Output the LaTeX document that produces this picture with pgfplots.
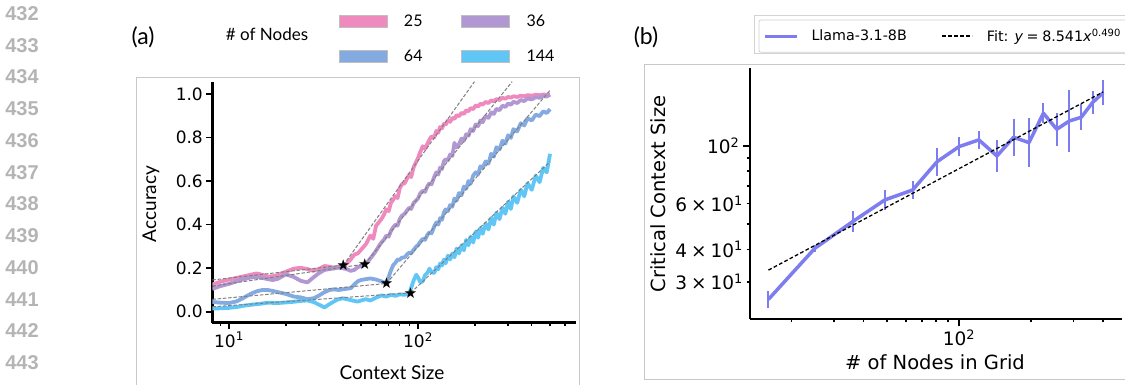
\documentclass[border=0pt]{standalone}
\usepackage{fontspec}
\usepackage{pgfplots}
\pgfplotsset{compat=1.18}
\newfontfamily\dejavu{DejaVu Sans}[ItalicFont={DejaVu Sans Oblique}]
\newfontfamily\lato{Lato}
\newfontfamily\lnfont{Liberation Sans}
\definecolor{pinkc}{RGB}{238,138,190}
\definecolor{purpc}{RGB}{178,152,210}
\definecolor{bluec}{RGB}{132,170,226}
\definecolor{cyanc}{RGB}{96,198,246}
\definecolor{llama}{RGB}{125,125,240}
\definecolor{boxgray}{RGB}{200,200,200}
\definecolor{lnum}{RGB}{180,180,180}

\pgfplotstableread{
x y
8.16 0.125
9 0.138
10 0.148
11 0.156
12 0.163
13 0.170
14 0.176
15 0.170
16 0.162
17 0.163
18 0.168
20 0.184
22 0.198
24 0.202
26 0.196
28 0.188
30 0.197
32 0.210
34 0.207
36 0.202
38 0.208
40 0.212
42 0.222
44 0.240
46 0.262
48 0.268
50 0.285
53 0.310
56 0.350
58 0.335
60 0.395
62 0.410
64 0.425
66 0.445
68 0.470
70 0.462
72 0.500
74 0.515
76 0.530
78 0.522
80 0.565
82 0.585
85 0.590
88 0.615
90 0.630
92 0.618
95 0.665
98 0.690
100 0.705
103 0.735
106 0.760
109 0.748
112 0.770
115 0.790
118 0.805
122 0.800
125 0.830
128 0.822
131 0.848
134 0.842
137 0.862
140 0.858
144 0.878
148 0.872
152 0.890
156 0.885
160 0.902
165 0.898
170 0.913
175 0.908
180 0.925
185 0.920
190 0.935
196 0.930
202 0.947
208 0.942
214 0.955
220 0.951
228 0.963
236 0.958
244 0.970
252 0.966
260 0.976
270 0.972
280 0.982
290 0.978
300 0.986
310 0.983
320 0.989
335 0.986
350 0.992
365 0.989
380 0.994
400 0.992
420 0.996
440 0.994
460 0.997
480 0.996
500 0.999
}\pinktab

\pgfplotstableread{
x y
8.16 0.105
9 0.118
10 0.128
11 0.140
12 0.150
13 0.157
14 0.160
15 0.156
16 0.150
17 0.146
18 0.150
20 0.172
22 0.160
24 0.142
26 0.135
28 0.158
30 0.178
32 0.192
34 0.196
36 0.199
38 0.203
40 0.200
42 0.196
44 0.188
46 0.192
48 0.205
50 0.210
52 0.218
54 0.228
56 0.245
58 0.262
60 0.280
62 0.300
64 0.318
66 0.330
68 0.350
70 0.345
72 0.372
74 0.388
76 0.400
78 0.395
80 0.425
82 0.440
85 0.450
88 0.468
90 0.478
92 0.472
95 0.500
98 0.512
100 0.520
103 0.545
106 0.555
109 0.550
112 0.575
115 0.590
118 0.585
122 0.620
125 0.640
128 0.630
131 0.662
134 0.655
137 0.690
140 0.700
144 0.695
148 0.722
152 0.715
156 0.775
160 0.755
165 0.770
170 0.795
175 0.785
180 0.815
185 0.808
190 0.838
196 0.830
202 0.860
208 0.852
214 0.878
220 0.870
228 0.898
236 0.890
244 0.915
252 0.908
260 0.932
270 0.925
280 0.946
290 0.940
300 0.956
310 0.950
320 0.964
335 0.958
350 0.972
365 0.967
380 0.979
400 0.975
420 0.985
440 0.982
460 0.990
480 0.988
500 0.996
}\purptab

\pgfplotstableread{
x y
8.16 0.045
9 0.042
10 0.040
11 0.048
12 0.065
13 0.082
14 0.094
15 0.100
16 0.100
17 0.096
18 0.091
20 0.082
22 0.070
24 0.066
26 0.058
28 0.062
30 0.075
32 0.090
34 0.100
36 0.103
38 0.100
40 0.103
42 0.106
44 0.108
46 0.125
48 0.140
50 0.146
53 0.150
56 0.153
60 0.148
64 0.140
68 0.130
70 0.160
72 0.190
74 0.215
76 0.225
78 0.240
80 0.238
82 0.248
85 0.250
88 0.265
90 0.272
92 0.268
95 0.285
98 0.300
100 0.305
103 0.322
106 0.335
109 0.330
112 0.352
115 0.365
118 0.360
122 0.392
125 0.410
128 0.400
131 0.430
134 0.422
137 0.455
140 0.470
144 0.462
148 0.490
152 0.482
156 0.520
160 0.510
165 0.545
170 0.535
175 0.575
180 0.565
185 0.600
190 0.588
196 0.625
202 0.640
208 0.630
214 0.668
220 0.660
228 0.690
236 0.680
244 0.725
252 0.712
260 0.755
270 0.745
280 0.785
290 0.772
300 0.810
310 0.798
320 0.838
335 0.828
350 0.865
365 0.855
380 0.888
400 0.878
420 0.905
440 0.898
460 0.920
480 0.912
500 0.930
}\bluetab

\pgfplotstableread{
x y
8.16 0.015
9 0.016
10 0.018
11 0.022
12 0.028
13 0.032
14 0.035
15 0.038
16 0.042
17 0.041
18 0.040
20 0.043
22 0.046
24 0.050
26 0.052
28 0.045
30 0.032
32 0.020
34 0.035
36 0.048
38 0.058
40 0.062
42 0.058
44 0.054
46 0.050
48 0.047
50 0.052
53 0.058
56 0.052
60 0.065
64 0.075
68 0.070
72 0.078
76 0.073
80 0.080
85 0.078
88 0.082
90 0.086
92 0.110
95 0.145
98 0.170
100 0.158
103 0.135
106 0.140
109 0.168
112 0.178
115 0.198
118 0.182
122 0.178
125 0.205
128 0.195
131 0.222
134 0.212
137 0.240
140 0.222
144 0.258
148 0.240
152 0.268
156 0.250
160 0.290
165 0.268
170 0.305
175 0.282
180 0.330
185 0.305
190 0.345
196 0.318
202 0.368
208 0.340
214 0.385
220 0.358
228 0.405
236 0.378
244 0.430
252 0.400
260 0.455
270 0.425
280 0.478
290 0.450
300 0.505
310 0.472
320 0.530
335 0.500
350 0.560
365 0.530
380 0.590
400 0.560
420 0.625
440 0.595
460 0.660
480 0.640
500 0.725
}\cyantab

\pgfplotstableread{
n c ep em
16 25.7 1.96 1.82
25 40.4 1.2 1.2
36 51.2 5.2 4.7
49 62.0 6.0 5.4
64 67.7 5.6 5.2
81 87.0 11.5 10.1
100 99.4 8.9 8.2
121 105.5 9.1 8.4
144 91.5 14.2 12.3
169 108 19.0 16.2
196 103 24.7 19.9
225 133.6 12.4 11.4
256 115.9 18.4 15.9
289 124.8 39.9 30.3
324 128.9 15.7 14.0
361 146.8 16.0 14.4
400 160.3 18.4 16.5
}\llamatab

\begin{document}
\begin{tikzpicture}
\useasboundingbox (0pt,0pt) rectangle (1125pt,385pt);
% line numbers
\foreach \i/\t in {0/432,1/433,2/434,3/435,4/436,5/437,6/438,7/439,8/440,9/441,10/442,11/443}{
  \node[font=\lnfont\bfseries\fontsize{20}{20}\selectfont, text=lnum] at (22pt,{371.5pt-31.75pt*\i}) {\t};
}
% panel frames
\draw[boxgray, line width=1pt] (136pt,-5pt) -- (136pt,307pt) -- (579.3pt,307pt) -- (579.3pt,-5pt);
\draw[boxgray, line width=1pt] (644.3pt,5.7pt) rectangle (1135pt,320.7pt);
\draw[boxgray!80, line width=1pt] (754.6pt,331.7pt) rectangle (1135pt,369.3pt);

% ---------- panel (a)
\begin{axis}[
  at={(212.3pt,62.3pt)}, anchor=south west, scale only axis,
  width=363.7pt, height=241pt,
  xmode=log, xmin=8.16, xmax=686, ymin=-0.05, ymax=1.056,
  axis x line*=bottom, axis y line*=left,
  axis line style={line width=2.8pt, black},
  tick align=outside, major tick length=6pt, minor tick length=3.5pt,
  tick style={line width=1.5pt, black},
  xtick={10,100}, xticklabels={10\textsuperscript{1},10\textsuperscript{2}},
  minor xtick={9,20,30,40,50,60,70,80,90,200,300,400,500,600},
  ytick={0,0.2,0.4,0.6,0.8,1.0}, yticklabels={0.0,0.2,0.4,0.6,0.8,1.0},
  tick label style={font=\dejavu\fontsize{17}{17}\selectfont},
  legend columns=2, legend cell align=left,
  legend style={draw=none, fill=none, at={(axis description cs:0.2466,1.285)}, anchor=north west,
    inner sep=0pt, outer sep=0pt, column sep=0pt, row sep=18pt,
    font=\lato\fontsize{16}{16}\selectfont, cells={anchor=west}},
]
\addplot[pinkc, mark=none, line width=3.8pt, line join=round,
  legend image code/.code={\path[draw=none, fill=none] (-37pt,0pt) -- (63pt,0pt); \path[fill=pinkc, draw=black!25, line width=0.6pt] (0pt,-6pt) rectangle (48pt,6pt);}]
  table[x=x,y=y] {\pinktab};
\addlegendentry{25}
\addplot[purpc, mark=none, line width=3.8pt, line join=round,
  legend image code/.code={\path[draw=none, fill=none] (-37pt,0pt) -- (63pt,0pt); \path[fill=purpc, draw=black!25, line width=0.6pt] (0pt,-6pt) rectangle (48pt,6pt);}]
  table[x=x,y=y] {\purptab};
\addlegendentry{36}
\addplot[bluec, mark=none, line width=3.8pt, line join=round,
  legend image code/.code={\path[draw=none, fill=none] (-37pt,0pt) -- (63pt,0pt); \path[fill=bluec, draw=black!25, line width=0.6pt] (0pt,-6pt) rectangle (48pt,6pt);}]
  table[x=x,y=y] {\bluetab};
\addlegendentry{64}
\addplot[cyanc, mark=none, line width=3.8pt, line join=round,
  legend image code/.code={\path[draw=none, fill=none] (-37pt,0pt) -- (63pt,0pt); \path[fill=cyanc, draw=black!25, line width=0.6pt] (0pt,-6pt) rectangle (48pt,6pt);}]
  table[x=x,y=y] {\cyantab};
\addlegendentry{144}
% fitted segments
\addplot[forget plot, mark=none, black!50, line width=1pt, dash pattern=on 3.5pt off 1.8pt] coordinates {(8.16,0.146) (40.3,0.214)};
\addplot[forget plot, mark=none, black!50, line width=1pt, dash pattern=on 3.5pt off 1.8pt] coordinates {(40.3,0.214) (199,1.056)};
\addplot[forget plot, mark=none, black!50, line width=1pt, dash pattern=on 3.5pt off 1.8pt] coordinates {(8.16,0.118) (52.4,0.219)};
\addplot[forget plot, mark=none, black!50, line width=1pt, dash pattern=on 3.5pt off 1.8pt] coordinates {(52.4,0.219) (315,1.056)};
\addplot[forget plot, mark=none, black!50, line width=1pt, dash pattern=on 3.5pt off 1.8pt] coordinates {(8.16,0.057) (68.2,0.130)};
\addplot[forget plot, mark=none, black!50, line width=1pt, dash pattern=on 3.5pt off 1.8pt] coordinates {(68.2,0.130) (500,1.017)};
\addplot[forget plot, mark=none, black!50, line width=1pt, dash pattern=on 3.5pt off 1.8pt] coordinates {(8.16,0.023) (91.5,0.087)};
\addplot[forget plot, mark=none, black!50, line width=1pt, dash pattern=on 3.5pt off 1.8pt] coordinates {(91.5,0.087) (500,0.689)};
\addplot[forget plot, only marks, mark=text, text mark={★}, text mark as node=true,
  text mark style={font=\dejavu\fontsize{15}{15}\selectfont, inner sep=0pt, text=black}]
  coordinates {(40.3,0.214) (52.4,0.219) (68.2,0.130) (91.5,0.087)};
\end{axis}

\node[font=\lato\fontsize{23}{23}\selectfont] at (143pt,348pt) {(a)};
\node[font=\lato\fontsize{17}{17}\selectfont] at (267pt,350.7pt) {\# of Nodes};
\node[rotate=90, anchor=base, font=\lato\fontsize{19}{19}\selectfont] at (156pt,181pt) {Accuracy};
\node[anchor=base, font=\lato\fontsize{19}{19}\selectfont] at (392pt,5pt) {Context Size};

% ---------- panel (b)
\begin{axis}[
  at={(750pt,66pt)}, anchor=south west, scale only axis,
  width=371.7pt, height=251pt,
  xmode=log, ymode=log, xmin=13.4, xmax=478, ymin=21.6, ymax=199.5,
  axis x line*=bottom, axis y line*=left,
  axis line style={line width=2.8pt, black},
  tick align=outside, major tick length=7pt, minor tick length=3.5pt,
  tick style={line width=1.5pt, black},
  xtick={100}, xticklabels={10\textsuperscript{2}},
  minor xtick={20,30,40,50,60,70,80,90,200,300,400},
  ytick={100}, yticklabels={10\textsuperscript{2}},
  minor ytick={50,70,80,90},
  extra y ticks={30,40,60},
  extra y tick labels={3\hspace{0.22em}×\hspace{0.22em}10\textsuperscript{1},4\hspace{0.22em}×\hspace{0.22em}10\textsuperscript{1},6\hspace{0.22em}×\hspace{0.22em}10\textsuperscript{1}},
  extra y tick style={major tick length=3.5pt},
  tick label style={font=\dejavu\fontsize{18.5}{18.5}\selectfont},
  error bars/error bar style={line width=2pt, color=llama},
  legend columns=2,
  legend style={draw=black!18, line width=0.8pt, rounded corners=2pt, fill=white,
    at={(axis description cs:0.0242,1.1912)}, anchor=north west,
    inner xsep=4.3pt, inner ysep=7pt, outer sep=0pt, column sep=0pt,
    font=\dejavu\fontsize{14.3}{14.3}\selectfont, cells={anchor=west}},
]
\addplot[llama, color=llama, line width=3.5pt, line join=round, mark=none,
  legend image code/.code={\path[draw=llama, line width=3pt] (0pt,0pt) -- (31.7pt,0pt); \path[draw=none] (0pt,0pt) -- (44.7pt,0pt);},
  error bars/.cd, y dir=both, y explicit, error mark=none,
  error bar style={line width=2pt, color=llama, solid}]
  table[x=n, y=c, y error plus=ep, y error minus=em] {\llamatab};
\addlegendentry{Llama-3.1-8B}
\addplot[black, mark=none, line width=1.3pt, dash pattern=on 3.7pt off 2.3pt,
  legend image code/.code={\path[draw=none] (-33.4pt,0pt) -- (42.6pt,0pt); \path[draw=black, line width=1.3pt, dash pattern=on 3.7pt off 2.3pt] (0pt,0pt) -- (30pt,0pt);}]
  coordinates {(16,33.3) (400,161.4)};
\addlegendentry{Fit: \textit{y}\hspace{0.25em}=\hspace{0.25em}8.541\textit{x}\textsuperscript{0.490}}
\end{axis}

\node[font=\lato\fontsize{23}{23}\selectfont] at (646pt,348pt) {(b)};
\node[rotate=90, anchor=base, font=\dejavu\fontsize{19.5}{19.5}\selectfont] at (665pt,191pt) {Critical Context Size};
\node[anchor=base, font=\dejavu\fontsize{19.5}{19.5}\selectfont] at (935pt,15pt) {\# of Nodes in Grid};
\end{tikzpicture}
\end{document}
